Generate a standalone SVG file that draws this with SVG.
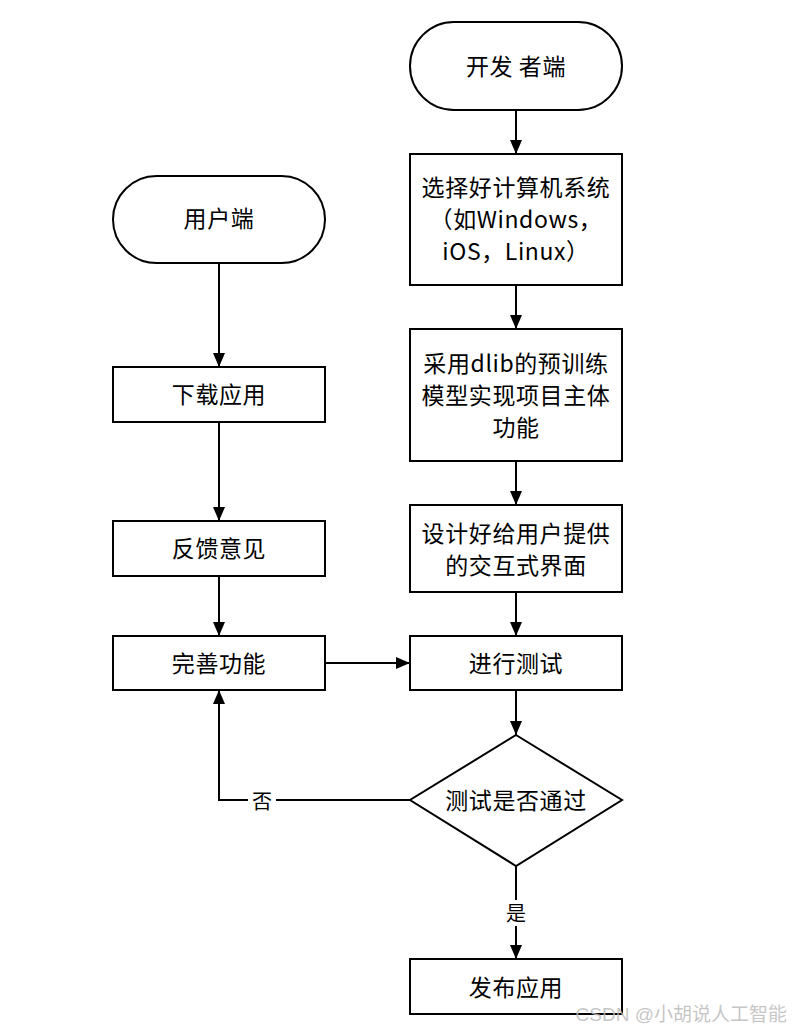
<svg xmlns="http://www.w3.org/2000/svg" width="802" height="1034" viewBox="0 0 802 1034">
<style>
.n{fill:#fff;stroke:#000;stroke-width:2}
.t{font-family:"Noto Sans CJK SC","Noto Sans",sans-serif;font-size:23px;letter-spacing:0.6px;fill:#000;text-anchor:middle;dominant-baseline:central}
.c{fill:none;stroke:#000;stroke-width:2}
.l{font-family:"Noto Sans CJK SC",serif;font-size:20px;fill:#000;text-anchor:middle;dominant-baseline:central}
</style>
<defs>
<marker id="a" viewBox="0 0 14 12" refX="14" refY="6" markerWidth="14" markerHeight="12" markerUnits="userSpaceOnUse" orient="auto">
<path d="M0,0 L14,6 L0,12 Z" fill="#000"/>
</marker>
</defs>
<rect width="802" height="1034" fill="#fff"/>
<g id="connectors">
<path class="c" d="M516,110 V154" marker-end="url(#a)"/>
<path class="c" d="M516,285 V329" marker-end="url(#a)"/>
<path class="c" d="M516,461 V505" marker-end="url(#a)"/>
<path class="c" d="M516,592 V636" marker-end="url(#a)"/>
<path class="c" d="M516,690 V735" marker-end="url(#a)"/>
<path class="c" d="M516,866 V959" marker-end="url(#a)"/>
<path class="c" d="M219,263 V367" marker-end="url(#a)"/>
<path class="c" d="M219,422 V521" marker-end="url(#a)"/>
<path class="c" d="M219,576 V636" marker-end="url(#a)"/>
<path class="c" d="M325,663 H410" marker-end="url(#a)"/>
<path class="c" d="M410,800 H219 V690" marker-end="url(#a)"/>
<rect x="248" y="788" width="28" height="24" fill="#fff"/>
<text class="l" x="262" y="800">否</text>
<rect x="503" y="900" width="26" height="26" fill="#fff"/>
<text class="l" x="516" y="912">是</text>
</g>
<g id="dev">
<rect class="n" x="410" y="22" width="212" height="88" rx="44" ry="44"/>
<text class="t" x="516" y="65">开发 者端</text>
</g>
<g id="os">
<rect class="n" x="410" y="154" width="212" height="131"/>
<text class="t" x="516" y="186">选择好计算机系统</text>
<text class="t" x="516" y="218">（如Windows，</text>
<text class="t" x="516" y="250">iOS，Linux）</text>
</g>
<g id="dlib">
<rect class="n" x="410" y="329" width="212" height="132"/>
<text class="t" x="516" y="362">采用dlib的预训练</text>
<text class="t" x="516" y="394">模型实现项目主体</text>
<text class="t" x="516" y="426">功能</text>
</g>
<g id="ui">
<rect class="n" x="410" y="505" width="212" height="87"/>
<text class="t" x="516" y="532">设计好给用户提供</text>
<text class="t" x="516" y="564">的交互式界面</text>
</g>
<g id="test">
<rect class="n" x="410" y="636" width="212" height="54"/>
<text class="t" x="516" y="662">进行测试</text>
</g>
<g id="decision">
<path class="n" d="M516,735 L622,800 L516,866 L410,800 Z"/>
<text class="t" x="516" y="799">测试是否通过</text>
</g>
<g id="release">
<rect class="n" x="410" y="959" width="212" height="55"/>
<text class="t" x="516" y="986">发布应用</text>
</g>
<g id="user">
<rect class="n" x="113" y="176" width="212" height="87" rx="43.5" ry="43.5"/>
<text class="t" x="219" y="217">用户端</text>
</g>
<g id="download">
<rect class="n" x="113" y="367" width="212" height="55"/>
<text class="t" x="219" y="393">下载应用</text>
</g>
<g id="feedback">
<rect class="n" x="113" y="521" width="212" height="55"/>
<text class="t" x="219" y="547">反馈意见</text>
</g>
<g id="improve">
<rect class="n" x="113" y="636" width="212" height="54"/>
<text class="t" x="219" y="662">完善功能</text>
</g>
<text x="787" y="1014" font-family="Liberation Sans,'Noto Sans CJK SC',sans-serif" font-size="19" fill="#bbb" fill-opacity="0.85" text-anchor="end" dominant-baseline="central">CSDN @小胡说人工智能</text>
</svg>
